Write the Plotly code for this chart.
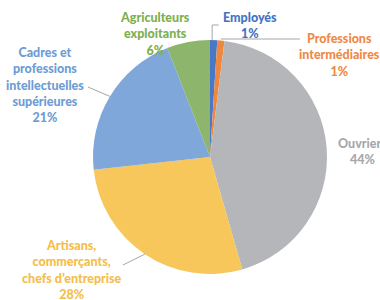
import math
import plotly.graph_objects as go

# Data (clockwise from 12 o'clock)
categories = ["Employés", "Professions intermédiaires", "Ouvriers",
              "Artisans, commerçants, chefs d'entreprise",
              "Cadres et professions intellectuelles supérieures",
              "Agriculteurs exploitants"]
values = [1, 1, 44, 28, 21, 6]
label_texts = ["Employés<br>1%",
               "Professions<br>intermédiaires<br>1%",
               "Ouvriers<br>44%",
               "Artisans,<br>commerçants,<br>chefs d’entreprise<br>28%",
               "Cadres et<br>professions<br>intellectuelles<br>supérieures<br>21%",
               "Agriculteurs<br>exploitants<br>6%"]

slice_colors = ["#4A78C8", "#F0873F", "#B4B6B9", "#F8C75C", "#7FA7D9", "#8DB56B"]
text_colors = ["#4472C4", "#EE8A45", "#A8A8A8", "#F3BE4A", "#6E9CD4", "#7DAF4F"]

W, H = 380, 300
cx, cy, R = 210, 157, 117  # pixel layout of the pie

fig = go.Figure(go.Pie(
    labels=categories, values=values, sort=False, direction="clockwise",
    rotation=0, textinfo="none", hoverinfo="label+percent",
    marker=dict(colors=slice_colors, line=dict(color="white", width=0)),
    domain=dict(x=[(cx - R) / W, (cx + R) / W],
                y=[(H - cy - R) / H, (H - cy + R) / H]),
    showlegend=False,
))

# label positions (pixel centers) -- layout
label_pos = [(250, 25.5), (339, 55), (362, 151), (72, 269.5), (45, 84.5), (155, 33.5)]

annotations = []
for txt, col, (px, py) in zip(label_texts, text_colors, label_pos):
    annotations.append(dict(
        x=px / W, y=1 - py / H, xref="paper", yref="paper",
        text=txt, showarrow=False, align="center",
        font=dict(family="Lato", size=12.5, color=col, weight=900),
        xanchor="center", yanchor="middle",
    ))

# leader lines: pie end from slice mid-angle
total = sum(values)
mids = []
acc = 0
for v in values:
    mids.append((acc + v / 2) / total * 2 * math.pi)
    acc += v


def edge(i):
    a = mids[i]
    return cx + R * math.sin(a), cy - R * math.cos(a)


def P(x, y):
    return f"{x / W:.4f} {1 - y / H:.4f}"

shapes = []
leaders = {
    1: [(300, 39)],
    3: [(123, 265)],
    4: [(88, 87)],
}
ex, ey = edge(0)
shapes.append(dict(type="path",
                   path="M " + P(ex - 1.5, ey) + " L " + P(ex - 1.5, 25) + " L " + P(ex + 5, 25),
                   xref="paper", yref="paper", line=dict(color="#A6A6A6", width=1)))
for i, pts in leaders.items():
    ex, ey = edge(i)
    if i == 1:
        ey = 39
    path = "M " + P(ex, ey) + "".join(" L " + P(*p) for p in pts)
    shapes.append(dict(type="path", path=path, xref="paper", yref="paper",
                       line=dict(color="#A6A6A6", width=1)))

fig.update_layout(
    width=W, height=H, margin=dict(l=0, r=0, t=0, b=0),
    paper_bgcolor="white", plot_bgcolor="white",
    annotations=annotations, shapes=shapes,
)

fig.write_html("out.html", config={"displayModeBar": False},
               post_script="document.body.style.margin='0';")
